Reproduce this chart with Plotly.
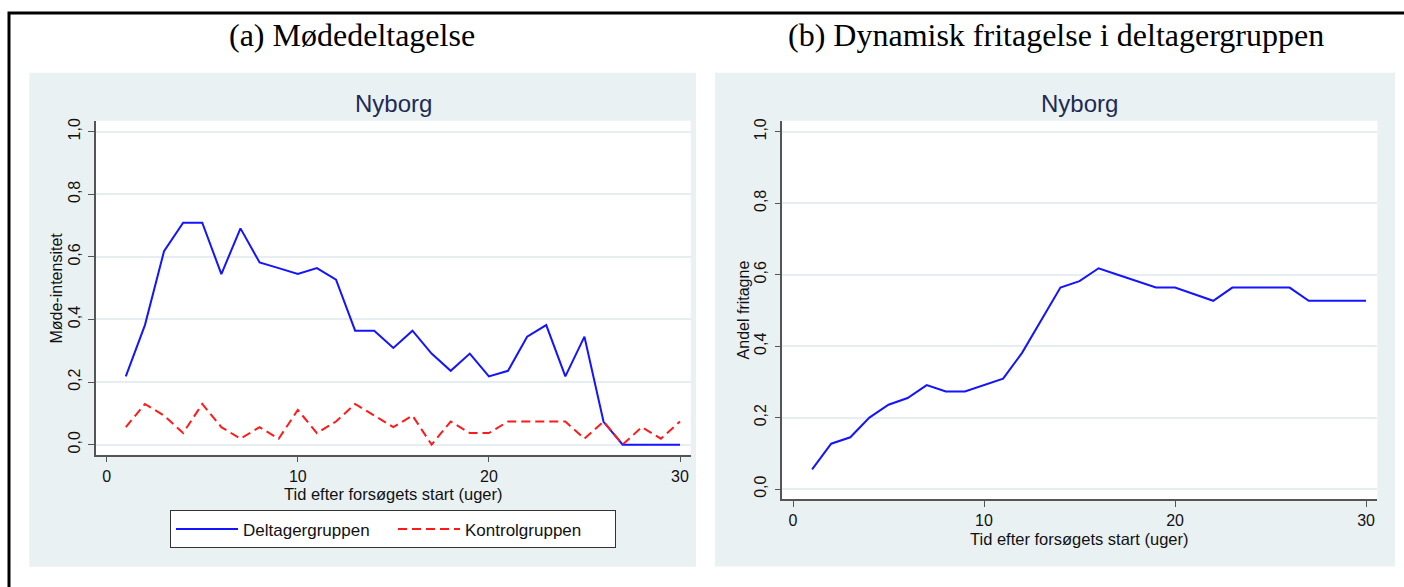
import plotly.graph_objects as go

# ── Data ─────────────────────────────────────────────────────────────────────
weeks = list(range(1, 31))

# (a) meeting intensity, Nyborg
deltager = [0.218, 0.382, 0.618, 0.709, 0.709, 0.545, 0.691, 0.582, 0.564, 0.545,
            0.564, 0.527, 0.364, 0.364, 0.309, 0.364, 0.291, 0.236, 0.291, 0.218,
            0.236, 0.345, 0.382, 0.218, 0.345, 0.073, 0.0, 0.0, 0.0, 0.0]
kontrol = [0.056, 0.130, 0.093, 0.037, 0.130, 0.056, 0.019, 0.056, 0.019, 0.111,
           0.037, 0.074, 0.130, 0.093, 0.056, 0.093, 0.0, 0.074, 0.037, 0.037,
           0.074, 0.074, 0.074, 0.074, 0.019, 0.074, 0.0, 0.056, 0.019, 0.074]

# (b) share exempted in participant group
fritagne = [0.055, 0.127, 0.145, 0.200, 0.236, 0.255, 0.291, 0.273, 0.273, 0.291,
            0.309, 0.382, 0.473, 0.564, 0.582, 0.618, 0.600, 0.582, 0.564, 0.564,
            0.545, 0.527, 0.564, 0.564, 0.564, 0.564, 0.527, 0.527, 0.527, 0.527]

x_ticks = [0, 10, 20, 30]
y_ticks = [0, 0.2, 0.4, 0.6, 0.8, 1.0]

# ── Style ────────────────────────────────────────────────────────────────────
W, H = 1404, 587
BLUE = "#1414FF"
RED = "#FF1A1A"
PANEL = "#EAF1F3"
GRID = "#E6EEF1"
AXIS = "#555555"
TXT = "#111111"
SANS = "Liberation Sans, Arial, sans-serif"
SERIF = "Liberation Serif, Times New Roman, serif"
NAVY = "#1E2B55"


def px_x(v):
    return v / W


def px_y(v):
    return (H - v) / H


fig = go.Figure()
fig.add_trace(go.Scatter(x=weeks, y=deltager, mode="lines", name="Deltagergruppen",
                         line=dict(color=BLUE, width=2), xaxis="x", yaxis="y"))
fig.add_trace(go.Scatter(x=weeks, y=kontrol, mode="lines", name="Kontrolgruppen",
                         line=dict(color=RED, width=2, dash="9px,5px"), xaxis="x", yaxis="y"))
fig.add_trace(go.Scatter(x=weeks, y=fritagne, mode="lines", showlegend=False,
                         line=dict(color=BLUE, width=2), xaxis="x2", yaxis="y2"))

axis_common = dict(
    showline=True, linecolor=AXIS, linewidth=1.5,
    ticks="outside", ticklen=6, tickcolor=AXIS, tickwidth=1.2,
    tickfont=dict(family=SANS, size=16, color=TXT),
    zeroline=False, mirror=False,
)
xcommon = dict(axis_common, tickvals=x_ticks, showgrid=False)
ycommon = dict(axis_common, tickvals=y_ticks, tickformat=".1f", tickangle=-90,
               showgrid=True, gridcolor=GRID, gridwidth=1.5, ticklabelstandoff=2)

fig.update_layout(
    width=W, height=H,
    margin=dict(l=0, r=0, t=0, b=0),
    paper_bgcolor="white",
    plot_bgcolor="rgba(0,0,0,0)",
    separators=",.",
    showlegend=True,
    xaxis=dict(xcommon, domain=[px_x(96), px_x(690.7)], range=[-0.56, 30.56], anchor="y"),
    yaxis=dict(ycommon, domain=[px_y(454), px_y(118.3)], range=[-0.032, 1.035], anchor="x"),
    xaxis2=dict(xcommon, domain=[px_x(782.3), px_x(1377.3)], range=[-0.56, 30.59], anchor="y2"),
    yaxis2=dict(ycommon, domain=[px_y(499), px_y(118.3)], range=[-0.029, 1.031], anchor="x2"),
    legend=dict(
        orientation="h", x=px_x(393), y=px_y(510), xanchor="center", yanchor="top",
        bgcolor="white", bordercolor="#333333", borderwidth=1,
        font=dict(family=SANS, size=17, color=TXT),
        entrywidth=145, itemwidth=62,
    ),
)

# gray graph regions, white plot regions, outer frame
shapes = [
    dict(type="rect", xref="paper", yref="paper", layer="below",
         x0=px_x(29.3), x1=px_x(696), y0=px_y(566.7), y1=px_y(70),
         fillcolor=PANEL, line_width=0),
    dict(type="rect", xref="paper", yref="paper", layer="below",
         x0=px_x(715), x1=px_x(1395), y0=px_y(566.5), y1=px_y(70),
         fillcolor=PANEL, line_width=0),
    dict(type="rect", xref="paper", yref="paper", layer="below",
         x0=px_x(96), x1=px_x(690.7), y0=px_y(454), y1=px_y(118.3),
         fillcolor="white", line_width=0),
    dict(type="rect", xref="paper", yref="paper", layer="below",
         x0=px_x(782.3), x1=px_x(1377.3), y0=px_y(499), y1=px_y(118.3),
         fillcolor="white", line_width=0),
    dict(type="rect", xref="paper", yref="paper", layer="above",
         x0=px_x(9), x1=1.05, y0=-0.05, y1=px_y(10),
         fillcolor="rgba(0,0,0,0)", line=dict(color="black", width=3)),
]
fig.update_layout(shapes=shapes)


def label(text, x, y, size, family=SANS, color=TXT, angle=0):
    return dict(text=text, x=px_x(x), y=px_y(y), xref="paper", yref="paper",
                showarrow=False, textangle=angle, xanchor="center", yanchor="middle",
                font=dict(family=family, size=size, color=color))


annotations = [
    label("(a) Mødedeltagelse", 352, 32, 32, SERIF, "black"),
    label("(b) Dynamisk fritagelse i deltagergruppen", 1056, 32, 32, SERIF, "black"),
    label("Nyborg", 393.4, 101, 24, color=NAVY),
    label("Nyborg", 1079.8, 101, 24, color=NAVY),
    # axis titles
    label("Tid efter forsøgets start (uger)", 393.4, 494, 16.5),
    label("Tid efter forsøgets start (uger)", 1079.8, 539, 16.5),
    label("Møde-intensitet", 57, 287, 16, angle=-90),
    label("Andel fritagne", 743, 309, 16, angle=-90),
]
fig.update_layout(annotations=annotations)

# page default body margin would shift the figure; remove it
fig.write_html("out.html", config={"displayModeBar": False},
               post_script="document.body.style.margin='0';")
